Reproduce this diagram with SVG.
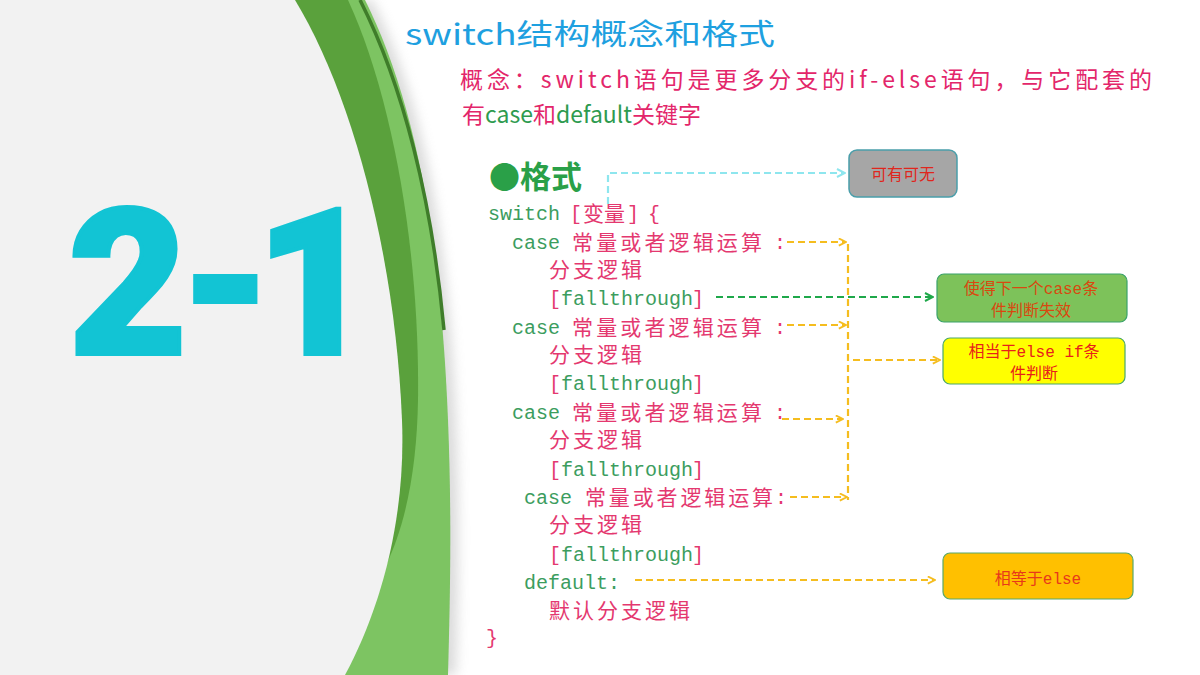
<svg xmlns="http://www.w3.org/2000/svg" width="1200" height="675" viewBox="0 0 1200 675">
<defs>
<style>
.code{font-family:"Liberation Mono","Noto Sans CJK SC",monospace;font-size:20px}
.cjk{font-family:"Noto Sans CJK SC",sans-serif;font-size:21px}
.g{fill:#3c9d5e}
.p{fill:#e4386f}
.hand{font-family:"Noto Sans CJK SC",sans-serif}
.big{font-family:Roboto,"Liberation Sans",sans-serif;font-weight:900;font-size:205px;fill:#12c4d4;stroke:#12c4d4;stroke-width:4;text-anchor:middle}
.box text{font-family:"Liberation Mono","Noto Sans CJK SC",monospace;font-size:16px;text-anchor:middle}
.dash{fill:none;stroke-width:2.2;stroke-dasharray:7 4}
</style>
<marker id="ay" viewBox="0 0 10 10" refX="9" refY="5" markerWidth="9" markerHeight="9" markerUnits="userSpaceOnUse" orient="auto"><path d="M1,1 L9,5 L1,9" fill="none" stroke="#f5bd1f" stroke-width="2"/></marker>
<marker id="ac" viewBox="0 0 10 10" refX="9" refY="5" markerWidth="10" markerHeight="10" markerUnits="userSpaceOnUse" orient="auto"><path d="M1,1 L9,5 L1,9" fill="none" stroke="#8ee6ee" stroke-width="2"/></marker>
<marker id="ag" viewBox="0 0 10 10" refX="9" refY="5" markerWidth="10" markerHeight="10" markerUnits="userSpaceOnUse" orient="auto"><path d="M1,1 L9,5 L1,9" fill="none" stroke="#1fa84a" stroke-width="2"/></marker>
<filter id="sh" x="-20%" y="-5%" width="140%" height="110%"><feGaussianBlur stdDeviation="6"/></filter>
</defs>
<rect width="1200" height="675" fill="#ffffff"/>
<g id="background">
<path d="M0,0 L372,0 C418,90 448,220 456,420 C460,520 458,600 456,675 L0,675 Z" fill="#b0b0b0" opacity="0.45" filter="url(#sh)"/>
<path d="M0,0 L365,0 C410,90 440,220 448,420 C452,520 450,600 448,675 L0,675 Z" fill="#7dc462"/>
<path d="M0,0 L348,0 C392,95 420,250 418,400 C417,460 408,520 386,565 L0,565 Z" fill="#5aa13c"/>
<path d="M360,0 C403,85 432,200 444,330" fill="none" stroke="#3f7d2a" stroke-width="3.5"/>
<path d="M0,0 L295,0 C350,90 395,250 402,420 C406,520 380,610 345,675 L0,675 Z" fill="#f2f2f2"/>
<text class="big" x="128 226 315" y="354 352 354">2-1</text>
</g>
<g id="title">
<text class="hand" x="405" y="45" font-size="29" fill="#1ea0e0" textLength="370" lengthAdjust="spacingAndGlyphs">switch结构概念和格式</text>
</g>
<g id="concept">
<text class="hand" x="460" y="88" font-size="23" fill="#e3266a" textLength="692" lengthAdjust="spacing">概念：switch语句是更多分支的if-else语句，与它配套的</text>
<text class="hand" x="462" y="123" font-size="23" fill="#e3266a">有<tspan fill="#2e9b4f">case</tspan>和<tspan fill="#2e9b4f">default</tspan>关键字</text>
</g>
<g id="heading">
<text class="hand" x="489" y="188" font-size="31" font-weight="bold" fill="#2aa048">●格式</text>
</g>
<g id="code">
<text class="code g" x="488" y="220">switch</text>
<text class="code p" x="570" y="220">[</text>
<text class="cjk p" x="583" y="221">变量</text>
<text class="code p" x="627" y="220">]</text>
<text class="code p" x="648" y="220">{</text>

<text class="code g" x="512" y="249">case</text>
<text class="cjk p" x="572" y="250" textLength="190" lengthAdjust="spacing">常量或者逻辑运算</text>
<text class="code p" x="774" y="249">:</text>
<text class="cjk p" x="549" y="277" textLength="93" lengthAdjust="spacing">分支逻辑</text>
<text class="code p" x="549" y="305">[</text>
<text class="code g" x="561" y="305" textLength="132">fallthrough</text>
<text class="code p" x="692" y="305">]</text>

<text class="code g" x="512" y="334">case</text>
<text class="cjk p" x="572" y="335" textLength="190" lengthAdjust="spacing">常量或者逻辑运算</text>
<text class="code p" x="774" y="334">:</text>
<text class="cjk p" x="549" y="362" textLength="93" lengthAdjust="spacing">分支逻辑</text>
<text class="code p" x="549" y="390">[</text>
<text class="code g" x="561" y="390" textLength="132">fallthrough</text>
<text class="code p" x="692" y="390">]</text>

<text class="code g" x="512" y="419">case</text>
<text class="cjk p" x="572" y="420" textLength="190" lengthAdjust="spacing">常量或者逻辑运算</text>
<text class="code p" x="774" y="419">:</text>
<text class="cjk p" x="549" y="447" textLength="93" lengthAdjust="spacing">分支逻辑</text>
<text class="code p" x="549" y="476">[</text>
<text class="code g" x="561" y="476" textLength="132">fallthrough</text>
<text class="code p" x="692" y="476">]</text>

<text class="code g" x="524" y="504">case</text>
<text class="cjk p" x="585" y="505" textLength="188" lengthAdjust="spacing">常量或者逻辑运算</text>
<text class="code p" x="775" y="504">:</text>
<text class="cjk p" x="549" y="532" textLength="93" lengthAdjust="spacing">分支逻辑</text>
<text class="code p" x="549" y="561">[</text>
<text class="code g" x="561" y="561" textLength="132">fallthrough</text>
<text class="code p" x="692" y="561">]</text>

<text class="code g" x="524" y="589" textLength="96">default:</text>
<text class="cjk p" x="549" y="618" textLength="141" lengthAdjust="spacing">默认分支逻辑</text>
<text class="code p" x="486" y="644">}</text>
</g>
<g id="connectors">
<path class="dash" d="M608,204 L608,173 L845,173" stroke="#8ee6ee" marker-end="url(#ac)"/>
<path class="dash" d="M787,242 L846,242" stroke="#f5bd1f" marker-end="url(#ay)"/>
<path class="dash" d="M787,325 L846,325" stroke="#f5bd1f" marker-end="url(#ay)"/>
<path class="dash" d="M782,419 L843,419" stroke="#f5bd1f" marker-end="url(#ay)"/>
<path class="dash" d="M790,497 L847,497" stroke="#f5bd1f" marker-end="url(#ay)"/>
<path class="dash" d="M848,244 L848,500" stroke="#f5bd1f"/>
<path class="dash" d="M853,360 L940,360" stroke="#f5bd1f" marker-end="url(#ay)"/>
<path class="dash" d="M716,297 L933,297" stroke="#1fa84a" marker-end="url(#ag)"/>
<path class="dash" d="M635,580 L935,580" stroke="#f5bd1f" marker-end="url(#ay)"/>
</g>
<g id="box-optional" class="box">
<rect x="849" y="150" width="108" height="47" rx="8" fill="#a6a6a6" stroke="#4a9eaa" stroke-width="1.5"/>
<text x="903" y="180" fill="#e0261d" style="font-family:'Noto Sans CJK SC',sans-serif">可有可无</text>
</g>
<g id="box-fallthrough" class="box">
<rect x="937" y="274" width="190" height="48" rx="7" fill="#7dc25a" stroke="#3aa26a" stroke-width="1.2"/>
<text x="1031" y="294" fill="#d9480f">使得下一个case条</text>
<text x="1031" y="316" fill="#d9480f">件判断失效</text>
</g>
<g id="box-elseif" class="box">
<rect x="943" y="338" width="182" height="46" rx="7" fill="#ffff00" stroke="#4aa86a" stroke-width="1.2"/>
<text x="1034" y="357" fill="#e8201a">相当于else if条</text>
<text x="1034" y="379" fill="#e8201a">件判断</text>
</g>
<g id="box-default" class="box">
<rect x="943" y="553" width="190" height="46" rx="7" fill="#ffc000" stroke="#5aa86a" stroke-width="1.2"/>
<text x="1038" y="584" fill="#e8381a">相等于else</text>
</g>
</svg>
